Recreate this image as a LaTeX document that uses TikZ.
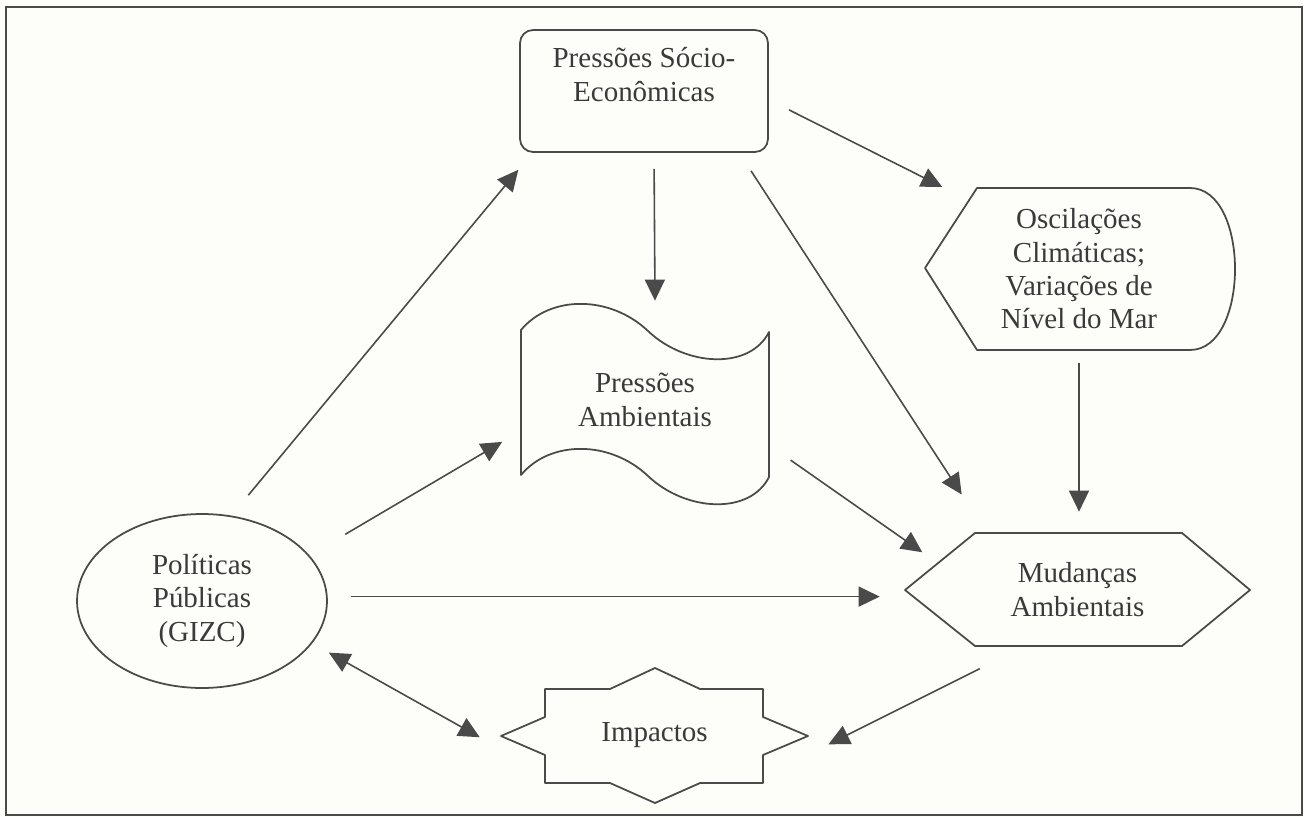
\documentclass[tikz,border=0pt]{standalone}
\usepackage{fontspec}
\setmainfont{Liberation Serif}
\usetikzlibrary{arrows.meta,positioning,shapes.geometric}
\definecolor{ink}{HTML}{4A4A4A}
\definecolor{txt}{HTML}{3A3A3A}
\definecolor{paper}{HTML}{FDFDFA}

\begin{document}
\begin{tikzpicture}[x=0.02cm, y=-0.02cm,
  lbl/.style={align=center, text=txt, font=\fontsize{16.5}{19}\selectfont},
  zone/.style={lbl, inner sep=0pt},
  outline/.style={draw=ink, line width=1pt, line join=round},
  arr/.style={-{Triangle[length=0.42cm, width=0.4cm]}, draw=ink, line width=0.9pt},
  dbl/.style={{Triangle[length=0.42cm, width=0.4cm]}-{Triangle[length=0.42cm, width=0.4cm]}, draw=ink, line width=0.9pt}
]
\fill[paper] (0,0) rectangle (1304,817);
\draw[ink, line width=1pt] (6,7) rectangle (1302,815);

% boxes
\node[outline, rounded corners=0.26cm, minimum width=4.96cm, minimum height=2.44cm] (socio) at (644,91) {};
\node[lbl, below=0.25cm of socio.north] (socio-txt) {Pressões Sócio-\\Econômicas};

\draw[outline] (521,475) -- (521,330) .. controls (550,295) and (610,295) .. (648,331)
  .. controls (686,367) and (750,370) .. (769,332) -- (769,477)
  .. controls (750,515) and (686,512) .. (648,476)
  .. controls (610,440) and (550,440) .. (521,475) -- cycle;
\node[zone, minimum width=4.96cm, minimum height=3.96cm] (amb) at (645,400) {Pressões\\Ambientais};

\draw[outline] (925,268) -- (977,188) -- (1190,188) .. controls (1250,188) and (1250,350) .. (1190,350) -- (977,350) -- cycle;
\node[zone, minimum width=6.16cm, minimum height=3.24cm] (osc) at (1079,269) {Oscilações\\Climáticas;\\Variações de\\Nível do Mar};

\draw[outline] (905,590) -- (975,533) -- (1182,533) -- (1250,590) -- (1182,646) -- (975,646) -- cycle;
\node[zone, minimum width=6.9cm, minimum height=2.26cm] (mud) at (1077.5,589.5) {Mudanças\\Ambientais};

\draw[outline] (501,736) -- (545,717) -- (545,689) -- (610,689) -- (655,668) -- (700,689) -- (763,689)
  -- (763,717) -- (808,736) -- (763,755) -- (763,783) -- (700,783) -- (655,803) -- (610,783)
  -- (545,783) -- (545,755) -- cycle;
\node[zone, minimum width=6.14cm, minimum height=2.7cm] (imp) at (654.5,735.5) {Impactos};

\node[outline, lbl, ellipse, inner sep=2pt, minimum width=5cm, minimum height=3.48cm] (polit) at (202,601) {Políticas\\Públicas\\(GIZC)};

% connectors
\draw[arr, shorten <=0.53cm, shorten >=0.44cm] (polit.71) -- (socio.209);
\draw[arr, shorten <=0.83cm, shorten >=0.43cm] (polit.23) -- (amb.194);
\draw[arr, shorten <=0.46cm, shorten >=0.5cm] (polit.2) -- (polit.2 -| mud.west);
\draw[dbl, shorten <=0.38cm, shorten >=0.48cm] (polit.-21) -- (imp.185);
\draw[arr, shorten <=1cm, shorten >=0.45cm] (mud.227) -- (imp.-7);
\draw[arr, shorten <=0.32cm] ([xshift=0.2cm]socio.south) -- ([xshift=0.2cm]amb.north);
\draw[arr, shorten <=0.43cm, shorten >=0.91cm] (socio.-33) -- (mud.148);
\draw[arr, shorten <=0.45cm, shorten >=0.03cm] (socio.-4) -- (osc.149);
\draw[arr, shorten <=0.26cm, shorten >=0.42cm] (osc.south) -- (osc.south |- mud.north);
\draw[arr, shorten <=0.52cm, shorten >=-0.43cm] (amb.-20) -- (mud.164);
\end{tikzpicture}
\end{document}
